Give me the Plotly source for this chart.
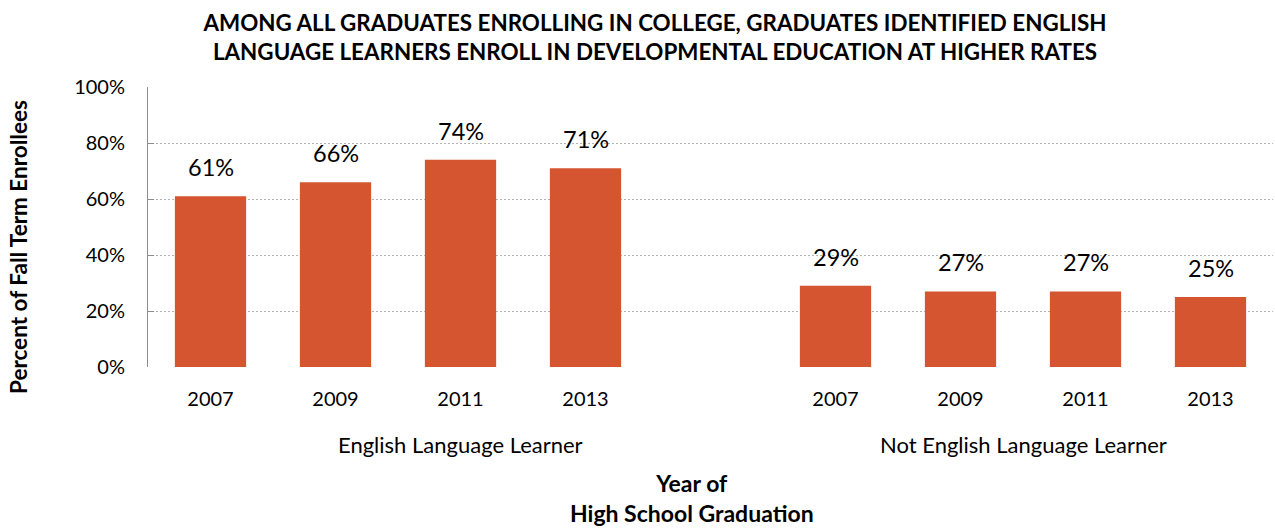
import plotly.graph_objects as go

# Developmental education enrollment rates (% of fall term enrollees)
years = ["2007", "2009", "2011", "2013"]
ell_rates = [61, 66, 74, 71]
non_ell_rates = [29, 27, 27, 25]
group_names = ["English Language Learner", "Not English Language Learner"]
group_centers = [2, 6.5]

# Slot positions on a numeric axis: ELL bars, one empty slot, then non-ELL bars
ell_x = [0, 1, 2, 3]
non_ell_x = [5, 6, 7, 8]
all_x = ell_x + non_ell_x
all_rates = ell_rates + non_ell_rates

BAR_COLOR = "#d4552f"
FONT = "Lato, 'Open Sans', sans-serif"

fig = go.Figure()
fig.add_trace(go.Bar(
    x=all_x,
    y=all_rates,
    width=0.57,
    marker=dict(color=BAR_COLOR, line=dict(width=0)),
    hoverinfo="skip",
))

# Value labels above each bar
for xv, v in zip(all_x, all_rates):
    fig.add_annotation(
        x=xv, y=v, text=f"{v}%", showarrow=False,
        yanchor="bottom", yshift=13,
        font=dict(family=FONT, size=23.5, color="#000000"),
    )

# Group labels under the year ticks
for name, cx in zip(group_names, group_centers):
    fig.add_annotation(
        x=cx, y=0, yref="y", text=name, showarrow=False,
        yanchor="middle", yshift=-77,
        font=dict(family=FONT, size=22, color="#000000"),
    )

# X-axis title
fig.add_annotation(
    x=(692 - 148) / 1125, xref="paper", y=0, yref="paper",
    text="<b>Year of<br>High School Graduation</b>", showarrow=False,
    xanchor="center", yanchor="middle", yshift=-131,
    font=dict(family=FONT, size=23, color="#000000"),
)

# Y-axis title
fig.add_annotation(
    x=0, xref="paper", y=0.5, yref="paper",
    text="<b>Percent of Fall Term Enrollees</b>", showarrow=False,
    textangle=-90, xanchor="center", yanchor="middle",
    xshift=-130, yshift=-20,
    font=dict(family=FONT, size=22.5, color="#000000"),
)

fig.update_layout(
    width=1275, height=529,
    margin=dict(l=148, r=2, t=87, b=162),
    paper_bgcolor="white", plot_bgcolor="white",
    showlegend=False,
    title=dict(
        text="<b>AMONG ALL GRADUATES ENROLLING IN COLLEGE, GRADUATES IDENTIFIED ENGLISH<br>"
             "LANGUAGE LEARNERS ENROLL IN DEVELOPMENTAL EDUCATION AT HIGHER RATES</b>",
        x=655 / 1275, xanchor="center", y=1 - 31 / 529, yanchor="middle",
        font=dict(family=FONT, size=22.4, color="#000000"),
    ),
    xaxis=dict(
        range=[-0.5, 8.5],
        tickmode="array", tickvals=all_x, ticktext=years + years,
        showgrid=False, zeroline=False, showline=False, ticks="",
        tickfont=dict(family=FONT, size=20, color="#000000"),
        ticklabelstandoff=18,
    ),
    yaxis=dict(
        range=[0, 100], dtick=20, ticksuffix="%",
        showgrid=True, gridcolor="#b3b3b3", griddash="2px,2px", gridwidth=1,
        zeroline=False, showline=True, linecolor="#8c8c8c", linewidth=1,
        ticks="inside", ticklen=6, tickcolor="#8c8c8c",
        tickfont=dict(family=FONT, size=20, color="#000000"),
        ticklabelstandoff=18,
    ),
)

fig.write_html("out.html")
